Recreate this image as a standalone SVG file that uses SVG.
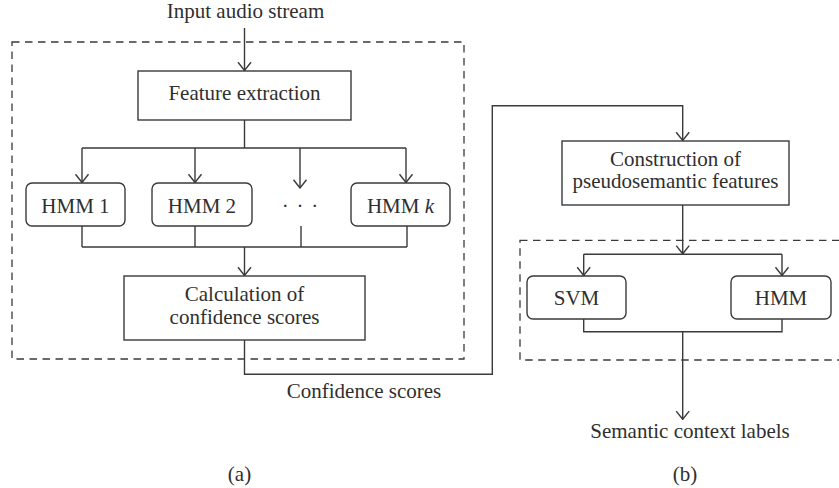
<svg xmlns="http://www.w3.org/2000/svg" width="839" height="488" viewBox="0 0 839 488">
  <style>
    text { font-family: "Liberation Serif", "Times New Roman", serif; font-size: 21px; fill: #2f2f2f; text-anchor: middle; }
    .box { fill: #ffffff; stroke: #3a3a3a; stroke-width: 1.4; }
    .group { fill: none; stroke: #3a3a3a; stroke-width: 1.3; stroke-dasharray: 7.5 5.5; }
    .wire { fill: none; stroke: #3a3a3a; stroke-width: 1.4; }
    .arrow { fill: none; stroke: #3a3a3a; stroke-width: 1.4; marker-end: url(#head); }
  </style>
  <defs>
    <!-- open chevron head, drawn pointing along +x so orient="auto" follows the line -->
    <marker id="head" viewBox="0 0 10 16" refX="9.2" refY="8" markerWidth="10" markerHeight="16" markerUnits="userSpaceOnUse" orient="auto">
      <path d="M1,1.5 L9.2,8 L1,14.5" fill="none" stroke="#3a3a3a" stroke-width="1.4"/>
    </marker>
  </defs>
  <rect width="839" height="488" fill="#ffffff"/>

  <!-- dashed grouping frames -->
  <rect id="frame-a" class="group" x="12" y="42" width="452" height="317"/>
  <rect id="frame-b" class="group" x="520" y="240.3" width="330" height="119.7"/>

  <!-- connectors -->
  <g id="connectors">
    <!-- input to feature extraction -->
    <path class="arrow" d="M244.5,28 V70.5"/>
    <!-- fan-out to the HMMs -->
    <path class="wire" d="M244.5,120 V148 M82,148 H406"/>
    <path class="arrow" d="M82,148 V182.5"/>
    <path class="arrow" d="M195,148 V182.5"/>
    <path class="arrow" d="M300,148 V188"/>
    <path class="arrow" d="M406,148 V182.5"/>
    <!-- fan-in to confidence calculation -->
    <path class="wire" d="M82,226 V247 M195,226 V247 M301,226 V247 M407,226 V247 M82,247 H407"/>
    <path class="arrow" d="M244.5,247 V275.5"/>
    <!-- confidence scores to part (b) -->
    <path class="arrow" d="M244.5,340 V374.3 H492.3 V105.7 H682.7 V140.5"/>
    <!-- construction to classifiers -->
    <path class="arrow" d="M682.7,205 V253.8"/>
    <path class="wire" d="M583.7,254.3 H782"/>
    <path class="arrow" d="M583.7,254.3 V275.5"/>
    <path class="arrow" d="M782,254.3 V275.5"/>
    <!-- classifiers to output labels -->
    <path class="wire" d="M583.7,319 V331.7 H782 V319"/>
    <path class="arrow" d="M682.7,331.7 V419.3"/>
  </g>

  <text x="245.5" y="18">Input audio stream</text>

  <g id="feature-extraction">
    <rect class="box" x="138" y="71" width="213" height="49"/>
    <text x="244.5" y="100">Feature extraction</text>
  </g>

  <g id="hmm-1">
    <rect class="box" x="26" y="183" width="99" height="43" rx="6"/>
    <text x="75.5" y="212.7">HMM 1</text>
  </g>
  <g id="hmm-2">
    <rect class="box" x="152" y="183" width="100" height="43" rx="6"/>
    <text x="202" y="212.7">HMM 2</text>
  </g>
  <g id="hmm-dots">
    <text x="300.6" y="213" style="letter-spacing:1.25px">· · ·</text>
  </g>
  <g id="hmm-k">
    <rect class="box" x="351" y="183" width="99" height="43" rx="6"/>
    <text x="400.5" y="212.7">HMM <tspan font-style="italic">k</tspan></text>
  </g>

  <g id="confidence-calculation">
    <rect class="box" x="124" y="276" width="241" height="64"/>
    <text x="244.5" y="300.7">Calculation of</text>
    <text x="244.5" y="324.3">confidence scores</text>
  </g>

  <text x="364" y="398">Confidence scores</text>

  <g id="pseudosemantic-construction">
    <rect class="box" x="562" y="141" width="227" height="64"/>
    <text x="675.5" y="165.7">Construction of</text>
    <text x="675.5" y="188.3">pseudosemantic features</text>
  </g>

  <g id="svm">
    <rect class="box" x="527" y="276" width="99" height="43" rx="6"/>
    <text x="576.5" y="305">SVM</text>
  </g>
  <g id="hmm">
    <rect class="box" x="731" y="276" width="100" height="43" rx="6"/>
    <text x="781" y="305">HMM</text>
  </g>

  <text x="690" y="438.3">Semantic context labels</text>

  <text x="239.5" y="481">(a)</text>
  <text x="685" y="480.5">(b)</text>
</svg>
